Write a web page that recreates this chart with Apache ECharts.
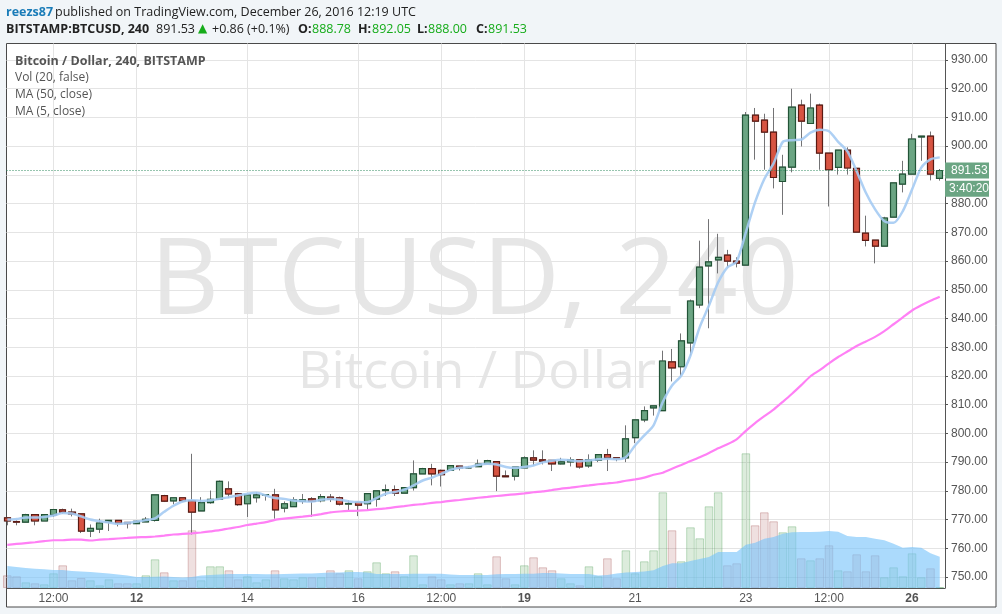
<!DOCTYPE html>
<html><head><meta charset="utf-8">
<style>html,body{margin:0;padding:0;background:#f1f5f8}#c{width:1002px;height:614px}</style>
<script src="https://cdn.jsdelivr.net/npm/echarts@6/dist/echarts.min.js"></script>
</head><body><div id="c"></div>
<script>
// candles: bar numbers run from firstBar; bar 0 is the first "12:00" tick
const firstBar = -5;
const opens = [770.6,769.3,769.1,771.7,769.5,771.6,773.4,772.6,772,766,766.7,769.2,769.7,769,768.6,769.2,769.7,778.3,776.5,777.6,776.6,773,775.9,777.1,780.7,779,775.5,777.6,778.5,778.6,774,774.5,776.3,777.2,776.6,777.8,777.6,775.4,776,775.5,777.1,780.1,780.4,779.2,781.1,785.9,787.7,787.1,787.1,788.6,788,788.4,789.4,790.2,785.2,785.1,788,791.5,790.8,790.6,789.4,790.1,790.8,788.7,790.7,792.6,791.5,791.5,798.5,804.7,808.9,807.9,824.9,823.2,831.5,844.7,858.3,860.4,862.1,860,858.6,910.8,909.1,904.9,887.7,892.7,914.3,907.9,914.3,897.6,892.6,898.6,892.3,869.7,867.3,865.2,875.3,886.8,890.3,903.2,903.5,888.78];
const closes = [769.5,769.1,771.7,769.5,771.7,773.5,772.6,772,766,766.9,768.8,769.7,768.8,768.6,769.4,770.1,778.6,776.4,777.6,776.5,772.6,775.9,777,783.3,778.9,775.2,778.6,778.6,778.7,773.4,775.5,776.9,776.9,776.3,778,777.1,775.4,775.6,775,779,780,780.4,779.2,781.1,785.9,787.7,785.9,785.6,788.8,788,788,789.3,790.5,785.1,784.9,788.3,791.5,790.7,790.3,789.4,790.1,790.8,788.3,790.8,792.6,791.5,791.2,798.1,804.7,807.9,809.6,825.2,822.8,832.2,846.1,857.9,859.7,861.3,860,859.3,910.8,908.7,904.9,889.1,892.7,913.6,908.7,913.3,897.6,891.8,898.6,892.4,870.1,867.2,865.2,875,887.2,890.3,902.5,903.5,890.3,891.53];
const lows = [768,768,769.1,768,769.5,770.9,772,771.1,765.3,763.9,765.3,766,767.6,766.9,768.6,769.2,769.3,776.1,775.3,776.5,764.8,773,775.5,777.1,777.6,774.8,770.9,775.9,776.6,770.3,772.5,774.5,775.5,770.9,776,776.1,774.9,773,771.2,773.2,774.5,778.2,778.2,779.2,780.1,786.2,781.9,781.5,786.9,787.1,787.7,788.4,789.4,779.9,784.9,783.6,788,788.8,789.2,786.9,789.2,788.5,787.7,788,790,786.9,790.3,790,796.6,803.9,806.2,807.9,818.1,819.9,827.1,843.6,836.6,855.7,857.8,857.8,858.6,895.3,891.8,885.3,876.1,890.9,899.9,907.9,891.8,879,890.1,890.1,870.1,865.1,859.2,865.2,875.3,883.9,890.3,894.9,888.1,888];
const highs = [770.9,769.7,772,771.7,771.7,773.7,773.8,773.8,772,768.3,770.3,769.7,769.7,769,769.7,770.9,778.6,778.6,777.6,777.6,792.9,777.8,780.1,783.6,783.3,779.3,778.6,779.5,778.7,780.7,776.3,777.8,778.9,777.8,778.9,778.9,778,776.7,776.2,779,780,782.2,781.9,781.2,790.6,788,789.4,787.4,788.8,788.6,788.6,790.9,790.8,790.2,787.1,788.3,792,794.1,794.1,790.6,791.5,791.7,790.8,792.7,792.6,794.6,791.5,802.8,804.7,809.4,809.6,828.8,829.4,834.8,846.6,867.1,874.6,869.5,863.9,861.3,911.9,913.3,911.3,913.3,897,920,916.2,918.3,914.8,897.6,898.6,899.6,892.3,875.8,867.3,875.4,887.2,894.9,904.3,903.5,905.1,892.05];
const volumes = [12.7,11.7,5.7,4.7,3.7,14.7,22.7,7.7,10,7.7,2.7,8.7,4.7,4.7,4.7,12.7,28.7,15.7,7.7,7.7,57.7,7.7,21.7,21.7,17.7,8.7,11.7,5.7,8.7,17.7,9.7,8.7,10.7,10.7,10.7,17.7,14.7,17.7,9.7,16.7,25.7,14.7,16.7,11.7,32.7,3.7,11.7,8.7,3.7,4.7,4.7,14.7,3.7,31.7,9.7,3.7,22.7,30.7,20.7,17.7,9.7,4.7,2.7,21.7,11.7,29.7,9.7,37.7,14.7,26.7,37.7,95.7,57.7,26.7,60.7,49.7,81.7,95.7,22.7,24.7,134.7,62.7,75.7,66.7,55.7,61.7,29.7,27.7,29.7,42.7,17.7,16.7,33.7,16.7,32.7,10.7,20.7,11.7,34.7,10.7,19.7,0.7];
const volumeMA = [22,21,20,19.3,18.7,18,18,17,16.5,16,15.3,14.5,13.5,12.5,11,11,11.3,11.5,11,10.5,11,12.5,13,13.5,14,14,14,14,13.8,13.8,14,14.2,14.5,14.5,15,15.5,15.5,16,16,15.5,14,14,14,14,14.3,14.3,14.3,14.2,13.5,13,13,13,13,13.7,14,14,14.3,14.3,15,15,14.5,14,14,14,12.5,13,14.5,15.5,16,16.5,17.7,22,24.7,24.7,27,29,31,36,36,36,43.3,45.3,49.3,51,54.3,55.7,56,56,56.3,57,56.3,52,51,51,49.3,47.7,44.3,40.3,41,40.3,34.7,31.3];
const ma50 = [761.2,761.5,761.8,762.1,762.5,762.8,762.8,763,763,762.7,763,763.2,763.4,763.6,763.8,763.9,764.1,764.4,764.8,765,765.2,765.5,765.9,766.3,766.9,767.4,768.1,768.6,769.1,769.9,770.3,770.7,771,771.4,771.9,772.5,772.8,773,773.1,773.3,773.6,773.9,774.3,774.7,775.1,775.4,775.8,776.1,776.5,776.8,777.2,777.6,777.9,778.2,778.5,778.8,779.1,779.5,779.8,780.3,780.8,781.1,781.5,781.9,782.3,782.6,782.9,783.5,784,784.6,785.6,786.3,787.7,789,790.4,791.7,793.2,794.8,796.2,797.9,800.9,803.6,806,808.3,811,813.8,816.8,819.9,822,824.4,826.6,828.5,830.4,832,833.6,835.6,838,840.4,842.8,844.6,846.2,847.6];
const ma5 = [770,770.2,770.7,770.7,770.9,771.4,772.3,772.1,771.1,770,769.4,769,768.5,768.8,769.3,769.8,770.4,772.7,774.8,776.3,776.7,776.5,776.7,777.2,777.8,778.4,779,779.3,778.4,777.5,777.2,776.6,776.4,776.3,776.9,777.2,776.9,776.3,776.1,776,777.5,779,779.6,780.4,781.9,783.6,784.6,785.9,787.3,788,788.3,789,789.4,789.2,788.3,788,788.3,788.8,789.9,790.5,790.8,790.6,790.3,790.6,791,791.2,791,791.7,795.8,799.3,802.8,810.9,816.7,820.1,827.1,837,844.5,852.6,857.8,859.8,870,880.5,888.6,894,901.5,902.1,902.3,904.7,905.7,905.2,901.5,898.2,891.3,883.8,878,873.9,873.3,877.4,884.9,892.5,895.4,896.1];
const timeTicks = [0,9,21,33,42,51,63,75,84,93];
const timeLabels = ['12:00','12','14','16','12:00','19','21','23','12:00','26'];
const boldLabels = ['12','19','26'];
const priceTicks = [750,760,770,780,790,800,810,820,830,840,850,860,870,880,890,900,910,920,930];
const lastPrice = 891.53, countdownLevel = 885.2;

const GREEN='#6ba583',GREEN_D='#225437',RED='#d75442',RED_D='#5b1a13',WICK='#737375',TAG='#6ba583';
const bar = i => firstBar + i;
const wicks = opens.map((o,i)=>[bar(i),o,closes[i],lows[i],highs[i]]);
const bodies = opens.map((o,i)=>[bar(i),o,closes[i],Math.min(o,closes[i]),Math.max(o,closes[i])]);
const volData = volumes.map((v,i)=>({value:[bar(i),v],itemStyle:closes[i]>=opens[i]
  ?{color:'rgba(60,150,60,.18)',borderColor:'rgba(60,150,70,.3)'}
  :{color:'rgba(160,70,70,.17)',borderColor:'rgba(160,70,70,.3)'}}));
const withX = a => a.map((v,i)=>[bar(i),v]);

const FONT='"Open Sans"';
const t=(x,y,text,o={})=>({type:'text',x,y,z:50,style:Object.assign({text,fill:'#222',font:'12.5px '+FONT,textVerticalAlign:'middle'},o)});
const wm=(x,y,text,size)=>({type:'text',x,y,z:-1,style:{text,fill:'#e6e6e6',font:size+'px '+FONT,textVerticalAlign:'middle'}});
const G='#16ac1a';
const b='bold 12.5px '+FONT;
const tagLabel=(text,pad)=>({show:true,position:'end',distance:0,formatter:text,color:'#fff',backgroundColor:TAG,fontSize:12,fontFamily:'Liberation Sans',width:44-pad,align:'left',padding:[2,0,2,pad],lineHeight:12});

const chart=echarts.init(document.getElementById('c'),null,{renderer:'canvas'});
chart.setOption({
 animation:false,backgroundColor:'#f1f5f8',
 graphic:[
  {type:'rect',z:-5,shape:{x:6.5,y:43.5,width:989.5,height:563.5},style:{fill:'#fff',stroke:'#4a4a4a',lineWidth:1}},
  wm(150,284,'BTCUSD, 240',107),
  wm(298,373,'Bitcoin / Dollar',52),
  t(6,12,'reezs87',{fill:'#1a7cb8',font:b}),
  t(55,12,'published on TradingView.com, December 26, 2016 12:19 UTC'),
  t(6,29,'BITSTAMP:BTCUSD, 240',{font:b}),
  t(156,29,'891.53'),
  t(198,29,'▲',{fill:G,font:'12px "DejaVu Sans"'}),
  t(212,29,'+0.86 (+0.1%)'),
  t(298,29,'O:',{font:b}),t(312,29,'888.78',{fill:G}),
  t(358,29,'H:',{font:b}),t(372,29,'892.05',{fill:G}),
  t(417,29,'L:',{font:b}),t(428,29,'888.00',{fill:G}),
  t(476,29,'C:',{font:b}),t(488,29,'891.53',{fill:G}),
  t(15,61,'Bitcoin / Dollar, 240, BITSTAMP',{fill:'#555',font:'bold 12.5px '+FONT}),
  t(15,78,'Vol (20, false)',{fill:'#555',font:'12px '+FONT}),
  t(15,95,'MA (50, close)',{fill:'#555',font:'12px '+FONT}),
  t(15,112,'MA (5, close)',{fill:'#555',font:'12px '+FONT})
 ],
 grid:{left:6.5,top:43.5,width:938.5,height:544.5,show:false},
 xAxis:{type:'value',min:-5.09,max:96.57,
  axisLine:{show:true,onZero:false,lineStyle:{color:'#555',width:1}},
  axisTick:{show:false,customValues:timeTicks},
  splitLine:{show:true,lineStyle:{color:'#e4e4e4',width:1}},
  axisLabel:{customValues:timeTicks,color:'#555',fontSize:12,fontFamily:'Liberation Sans',margin:5,
    formatter:v=>{const s=timeLabels[timeTicks.indexOf(v)];return boldLabels.includes(s)?'{b|'+s+'}':s;},
    rich:{b:{fontWeight:'bold',color:'#555',fontSize:12,fontFamily:'Liberation Sans'}}}},
 yAxis:[
  {type:'value',position:'right',min:746.17,max:935.75,z:1,
   axisLine:{show:true,onZero:false,lineStyle:{color:'#555',width:1}},
   axisTick:{show:true,length:3,lineStyle:{color:'#555'},customValues:priceTicks},
   splitLine:{show:true,lineStyle:{color:'#e4e4e4',width:1}},
   axisLabel:{customValues:priceTicks,color:'#555',fontSize:12,fontFamily:'Liberation Sans',margin:6,formatter:v=>v.toFixed(2)}},
  {type:'value',min:0,max:544.5,show:false,axisLine:{onZero:false}}
 ],
 series:[
  {type:'bar',name:'Volume',yAxisIndex:1,barWidth:8.6,data:volData,z:2,silent:true,itemStyle:{borderWidth:1}},
  {type:'line',name:'Volume MA',yAxisIndex:1,data:withX(volumeMA),showSymbol:false,z:3,silent:true,
   lineStyle:{width:0},areaStyle:{color:'rgba(120,195,250,.62)',opacity:1,origin:'start'}},
  {type:'candlestick',name:'wicks',data:wicks,barWidth:6.6,z:4,clip:true,silent:true,
   itemStyle:{color:GREEN,color0:RED,borderColor:WICK,borderColor0:WICK,borderWidth:1}},
  {type:'candlestick',name:'BTCUSD',data:bodies,barWidth:6.6,z:5,clip:true,silent:true,
   itemStyle:{color:GREEN,color0:RED,borderColor:GREEN_D,borderColor0:RED_D,borderWidth:1.2},
   markLine:{silent:true,symbol:'none',z:20,animation:false,precision:2,
    data:[
     {yAxis:lastPrice,lineStyle:{color:'#2e8b5e',type:[1,2],width:1},label:tagLabel(lastPrice.toFixed(2),6)},
     {yAxis:countdownLevel,lineStyle:{color:'rgba(0,0,0,0)',width:1},label:tagLabel('3:40:20',4)}
    ]}},
  {type:'line',name:'MA 5',data:withX(ma5),showSymbol:false,smooth:0.25,z:6,silent:true,lineStyle:{color:'rgba(165,203,243,.9)',width:2.5}},
  {type:'line',name:'MA 50',data:withX(ma50),showSymbol:false,smooth:0.2,z:7,silent:true,lineStyle:{color:'#ff80f5',width:2.2}}
 ]
});
</script></body></html>
